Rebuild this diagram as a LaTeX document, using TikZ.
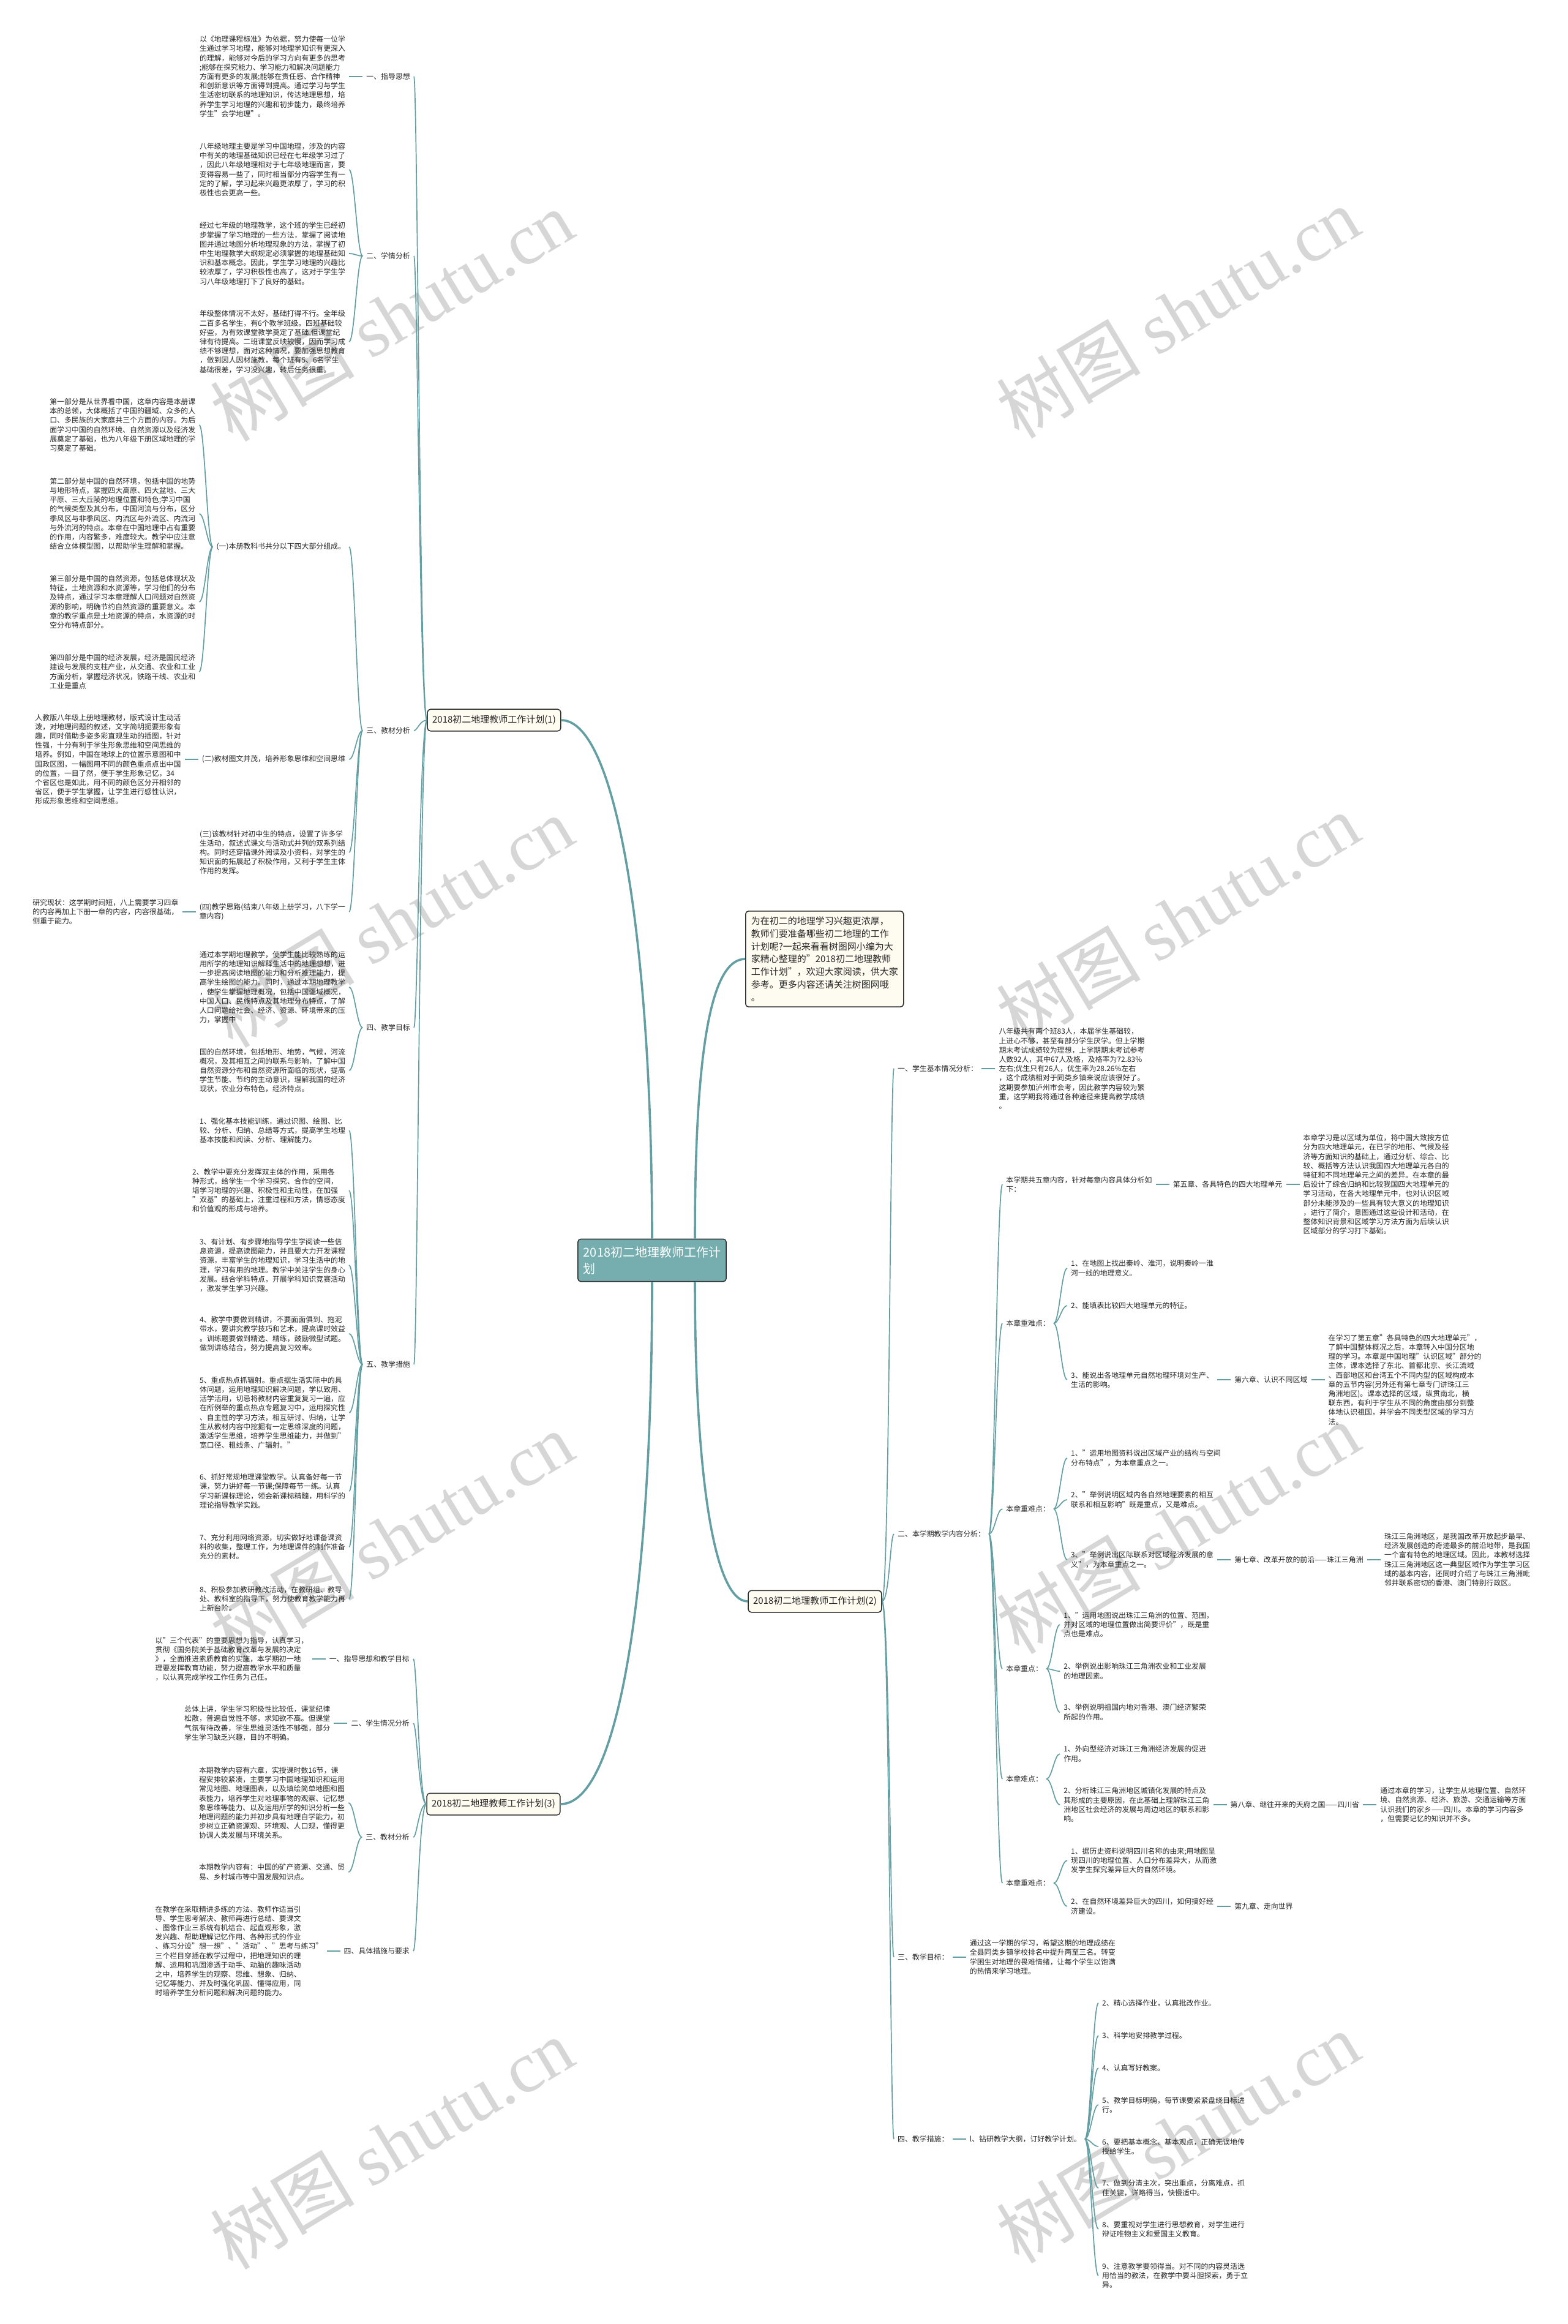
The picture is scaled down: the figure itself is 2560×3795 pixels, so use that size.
\documentclass[tikz,border=0pt]{standalone}
\usepackage{fontspec}
\setmainfont{Noto Sans CJK SC}
\newfontfamily\wmlatin{Liberation Serif}
\usetikzlibrary{calc}
\definecolor{lc}{RGB}{98,158,162}
\definecolor{tc}{RGB}{38,38,38}
\definecolor{boxfill}{RGB}{254,252,241}
\definecolor{boxdraw}{RGB}{45,45,45}
\definecolor{cfill}{RGB}{118,174,176}
\definecolor{wmc}{RGB}{214,214,214}
\newcommand\fontbody{\fontsize{11.9pt}{15.2pt}\selectfont}
\newcommand\fonthead{\fontsize{15pt}{18pt}\selectfont}
\newcommand\fontcenter{\fontsize{20pt}{27pt}\selectfont}
\newcommand\fontintro{\fontsize{15pt}{20.8pt}\selectfont}
\newcommand\fontwm{\fontsize{118pt}{120pt}\selectfont}
\newcommand\linkL[2]{\draw[conn] (#1.west) .. controls +(-15pt,0) and +(15pt,0) .. (#2.east);}
\newcommand\linkR[2]{\draw[conn] (#1.east) .. controls +(15pt,0) and +(-15pt,0) .. (#2.west);}
\newcommand\lineL[2]{\draw[conn] (#1.west) -- (#2.east);}
\newcommand\lineR[2]{\draw[conn] (#1.east) -- (#2.west);}
\newcommand\linkPL[2]{\draw[conn, shorten <=0pt] (#1.west) .. controls +(-12pt,0) and +(12pt,0) .. (#2.east);}
\newcommand\linkPR[2]{\draw[conn, shorten <=0pt] (#1.east) .. controls +(12pt,0) and +(-12pt,0) .. (#2.west);}
\begin{document}
\begin{tikzpicture}[x=1pt,y=-1pt,
  conn/.style={draw=lc, line width=1.7pt, shorten <=6pt, shorten >=6pt},
  trunk/.style={draw=lc, line width=3.6pt},
  tb/.style={inner sep=0pt, align=left, font=\fontbody, text=tc},
  tbl/.style={tb, anchor=east},
  tbr/.style={tb, anchor=west},
  bbox/.style={draw=boxdraw, fill=boxfill, rounded corners=5pt, line width=1.5pt, font=\fonthead, text=tc, inner xsep=8pt, inner ysep=10pt},
  ibox/.style={draw=boxdraw, fill=boxfill, rounded corners=5pt, line width=1.5pt, font=\fontintro, text=tc, inner xsep=9pt, inner ysep=9pt, align=left},
  cbox/.style={draw=boxdraw, fill=cfill, rounded corners=5pt, line width=1.5pt, font=\fontcenter, text=white, inner xsep=9pt, inner ysep=12pt, align=left},
  wm/.style={font=\fontwm, text=wmc, rotate=31, inner sep=0pt}
]
\fill[white] (0,0) rectangle (2560,3795);
\useasboundingbox (0,0) rectangle (2560,3795);

% watermarks
\foreach \wx/\wy in {640/515, 1924/510, 640/1505, 1924/1500, 640/2510, 1924/2495, 640/3500, 1924/3490}
  \node[wm] at (\wx,\wy) {树图 {\wmlatin shutu.cn}};

% ---------- centre ----------
\node[cbox] (c) at (1065,2058) {2018初二地理教师工作计\\划};
\node[ibox, anchor=west] (ib) at (1217,1566) {为在初二的地理学习兴趣更浓厚，\\教师们要准备哪些初二地理的工作\\计划呢?一起来看看树图网小编为大\\家精心整理的"2018初二地理教师\\工作计划"，欢迎大家阅读，供大家\\参考。更多内容还请关注树图网哦\\。};
\node[bbox] (p1) at (807,1176) {2018初二地理教师工作计划(1)};
\node[bbox] (p2) at (1331,2615) {2018初二地理教师工作计划(2)};
\node[bbox] (p3) at (806,2946) {2018初二地理教师工作计划(3)};

\draw[trunk] (c.north) .. controls (1065,1560) and (1010,1176) .. (p1.east);
\draw[trunk] ([xshift=70pt]c.north) .. controls (1135,1720) and (1160,1566) .. (ib.west);
\draw[trunk] ([xshift=70pt]c.south) .. controls (1135,2400) and (1165,2615) .. (p2.west);
\draw[trunk] (c.south) .. controls (1065,2600) and (1010,2946) .. (p3.east);

% ---------- part (1) ----------
\node[tbl] (l1a) at (670,125) {一、指导思想};
\node[tbl] (l1b) at (670,418) {二、学情分析};
\node[tbl] (l1c) at (670,1193) {三、教材分析};
\node[tbl] (l1d) at (670,1678) {四、教学目标};
\node[tbl] (l1e) at (670,2228) {五、教学措施};
\foreach \n in {l1a,l1b,l1c,l1d,l1e} {\linkPL{p1}{\n}}

\node[tbl] (a1) at ([xshift=-34pt]l1a.west |- 0,125) {以《地理课程标准》为依据，努力使每一位学\\生通过学习地理，能够对地理学知识有更深入\\的理解，能够对今后的学习方向有更多的思考\\;能够在探究能力、学习能力和解决问题能力\\方面有更多的发展;能够在责任感、合作精神\\和创新意识等方面得到提高。通过学习与学生\\生活密切联系的地理知识，传达地理思想，培\\养学生学习地理的兴趣和初步能力，最终培养\\学生"会学地理"。};
\lineL{l1a}{a1}

\node[tbl] (b1) at ([xshift=-34pt]l1b.west |- 0,277) {八年级地理主要是学习中国地理，涉及的内容\\中有关的地理基础知识已经在七年级学习过了\\，因此八年级地理相对于七年级地理而言，要\\变得容易一些了，同时相当部分内容学生有一\\定的了解，学习起来兴趣更浓厚了，学习的积\\极性也会更高一些。};
\node[tbl] (b2) at ([xshift=-34pt]l1b.west |- 0,414) {经过七年级的地理教学，这个班的学生已经初\\步掌握了学习地理的一些方法，掌握了阅读地\\图并通过地图分析地理现象的方法，掌握了初\\中生地理教学大纲规定必须掌握的地理基础知\\识和基本概念。因此，学生学习地理的兴趣比\\较浓厚了，学习积极性也高了，这对于学生学\\习八年级地理打下了良好的基础。};
\node[tbl] (b3) at ([xshift=-34pt]l1b.west |- 0,558) {年级整体情况不太好，基础打得不行。全年级\\二百多名学生，有6个教学班级。四班基础较\\好些，为有效课堂教学奠定了基础,但课堂纪\\律有待提高。二班课堂反映较慢，因而学习成\\绩不够理想，面对这种情况，要加强思想教育\\，做到因人因材施教，每个班有5、6名学生\\基础很差，学习没兴趣，转后任务很重。};
\foreach \n in {b1,b2,b3} {\linkL{l1b}{\n}}

\node[tbl] (s1) at ([xshift=-34pt]l1c.west |- 0,893) {(一)本册教科书共分以下四大部分组成。};
\node[tbl] (s2) at ([xshift=-34pt]l1c.west |- 0,1240) {(二)教材图文并茂，培养形象思维和空间思维};
\node[tbl] (s3) at ([xshift=-34pt]l1c.west |- 0,1392) {(三)该教材针对初中生的特点，设置了许多学\\生活动，叙述式课文与活动式并列的双系列结\\构。同时还穿插课外阅读及小资料，对学生的\\知识面的拓展起了积极作用，又利于学生主体\\作用的发挥。};
\node[tbl] (s4) at ([xshift=-34pt]l1c.west |- 0,1489) {(四)教学思路(结束八年级上册学习，八下学一\\章内容)};
\foreach \n in {s1,s2,s3,s4} {\linkL{l1c}{\n}}

\node[tbl] (c1) at ([xshift=-34pt]s1.west |- 0,694) {第一部分是从世界看中国，这章内容是本册课\\本的总领，大体概括了中国的疆域、众多的人\\口、多民族的大家庭共三个方面的内容。为后\\面学习中国的自然环境、自然资源以及经济发\\展奠定了基础，也为八年级下册区域地理的学\\习奠定了基础。};
\node[tbl] (c2) at ([xshift=-34pt]s1.west |- 0,839) {第二部分是中国的自然环境，包括中国的地势\\与地形特点，掌握四大高原、四大盆地、三大\\平原、三大丘陵的地理位置和特色;学习中国\\的气候类型及其分布，中国河流与分布，区分\\季风区与非季风区、内流区与外流区、内流河\\与外流河的特点。本章在中国地理中占有重要\\的作用，内容繁多，难度较大。教学中应注意\\结合立体模型图，以帮助学生理解和掌握。};
\node[tbl] (c3) at ([xshift=-34pt]s1.west |- 0,983) {第三部分是中国的自然资源，包括总体现状及\\特征，土地资源和水资源等，学习他们的分布\\及特点，通过学习本章理解人口问题对自然资\\源的影响，明确节约自然资源的重要意义。本\\章的教学重点是土地资源的特点，水资源的时\\空分布特点部分。};
\node[tbl] (c4) at ([xshift=-34pt]s1.west |- 0,1097) {第四部分是中国的经济发展，经济是国民经济\\建设与发展的支柱产业，从交通、农业和工业\\方面分析，掌握经济状况，铁路干线、农业和\\工业是重点};
\foreach \n in {c1,c2,c3,c4} {\linkL{s1}{\n}}

\node[tbl] (d1) at ([xshift=-34pt]s2.west |- 0,1240) {人教版八年级上册地理教材，版式设计生动活\\泼，对地理问题的叙述，文字简明扼要形象有\\趣，同时借助多姿多彩直观生动的插图，针对\\性强，十分有利于学生形象思维和空间思维的\\培养。例如，中国在地球上的位置示意图和中\\国政区图，一幅图用不同的颜色重点点出中国\\的位置，一目了然，便于学生形象记忆，34\\个省区也是如此，用不同的颜色区分开相邻的\\省区，便于学生掌握，让学生进行感性认识，\\形成形象思维和空间思维。};
\lineL{s2}{d1}
\node[tbl] (e1) at ([xshift=-34pt]s4.west |- 0,1489) {研究现状：这学期时间短，八上需要学习四章\\的内容再加上下册一章的内容，内容很基础，\\侧重于能力。};
\lineL{s4}{e1}

\node[tbl] (f1) at ([xshift=-34pt]l1d.west |- 0,1612) {通过本学期地理教学，使学生能比较熟练的运\\用所学的地理知识解释生活中的地理想想，进\\一步提高阅读地图的能力和分析推理能力，提\\高学生绘图的能力。同时，通过本期地理教学\\，使学生掌握地理概况，包括中国疆域概况，\\中国人口、民族特点及其地理分布特点，了解\\人口问题给社会、经济、资源、环境带来的压\\力，掌握中};
\node[tbl] (f2) at ([xshift=-34pt]l1d.west |- 0,1748) {国的自然环境，包括地形、地势，气候，河流\\概况，及其相互之间的联系与影响，了解中国\\自然资源分布和自然资源所面临的现状，提高\\学生节能、节约的主动意识，理解我国的经济\\现状，农业分布特色，经济特点。};
\foreach \n in {f1,f2} {\linkL{l1d}{\n}}

\node[tbl] (g1) at ([xshift=-34pt]l1e.west |- 0,1846) {1、强化基本技能训练，通过识图、绘图、比\\较、分析、归纳、总结等方式，提高学生地理\\基本技能和阅读、分析、理解能力。};
\node[tbl] (g2) at ([xshift=-34pt]l1e.west |- 0,1944) {2、教学中要充分发挥双主体的作用，采用各\\种形式，给学生一个学习探究、合作的空间，\\培学习地理的兴趣、积极性和主动性，在加强\\"双基"的基础上，注重过程和方法，情感态度\\和价值观的形成与培养。};
\node[tbl] (g3) at ([xshift=-34pt]l1e.west |- 0,2066) {3、有计划、有步骤地指导学生学阅读一些信\\息资源，提高读图能力，并且要大力开发课程\\资源，丰富学生的地理知识，学习生活中的地\\理，学习有用的地理。教学中关注学生的身心\\发展。结合学科特点，开展学科知识竞赛活动\\，激发学生学习兴趣。};
\node[tbl] (g4) at ([xshift=-34pt]l1e.west |- 0,2178) {4、教学中要做到精讲，不要面面俱到、拖泥\\带水，要讲究教学技巧和艺术，提高课时效益\\。训练题要做到精选、精练，鼓励微型试题。\\做到讲练结合，努力提高复习效率。};
\node[tbl] (g5) at ([xshift=-34pt]l1e.west |- 0,2307) {5、重点热点抓辐射。重点据生活实际中的具\\体问题，运用地理知识解决问题，学以致用、\\活学活用，切忌将教材内容重复复习一遍，应\\在所例举的重点热点专题复习中，运用探究性\\、自主性的学习方法，相互研讨、归纳，让学\\生从教材内容中挖掘有一定思维深度的问题，\\激活学生思维，培养学生思维能力，并做到"\\宽口径、粗线条、广辐射。"};
\node[tbl] (g6) at ([xshift=-34pt]l1e.west |- 0,2435) {6、抓好常规地理课堂教学。认真备好每一节\\课，努力讲好每一节课;保障每节一练。认真\\学习新课标理论，领会新课标精髓，用科学的\\理论指导教学实践。};
\node[tbl] (g7) at ([xshift=-34pt]l1e.west |- 0,2526) {7、充分利用网络资源，切实做好地课备课资\\料的收集，整理工作，为地理课件的制作准备\\充分的素材。};
\node[tbl] (g8) at ([xshift=-34pt]l1e.west |- 0,2611) {8、积极参加教研教改活动，在教研组、教导\\处、教科室的指导下，努力使教育教学能力再\\上新台阶。};
\foreach \n in {g1,g2,g3,g4,g5,g6,g7,g8} {\linkL{l1e}{\n}}

% ---------- part (3) ----------
\node[tbl] (m1) at (669,2709) {一、指导思想和教学目标};
\node[tbl] (m2) at (669,2814) {二、学生情况分析};
\node[tbl] (m3) at (669,3000) {三、教材分析};
\node[tbl] (m4) at (669,3186) {四、具体措施与要求};
\foreach \n in {m1,m2,m3,m4} {\linkPL{p3}{\n}}
\node[tbl] (h1) at ([xshift=-34pt]m1.west |- 0,2709) {以"三个代表"的重要思想为指导，认真学习，\\贯彻《国务院关于基础教育改革与发展的决定\\》，全面推进素质教育的实施，本学期初一地\\理要发挥教育功能，努力提高教学水平和质量\\，以认真完成学校工作任务为己任。};
\lineL{m1}{h1}
\node[tbl] (h2) at ([xshift=-34pt]m2.west |- 0,2814) {总体上讲，学生学习积极性比较低，课堂纪律\\松散，普遍自觉性不够，求知欲不高。但课堂\\气氛有待改善，学生思维灵活性不够强，部分\\学生学习缺乏兴趣，目的不明确。};
\lineL{m2}{h2}
\node[tbl] (h3) at ([xshift=-34pt]m3.west |- 0,2944) {本期教学内容有六章，实授课时数16节，课\\程安排较紧凑，主要学习中国地理知识和运用\\常见地图、地理图表，以及填绘简单地图和图\\表能力，培养学生对地理事物的观察、记忆想\\象思维等能力、以及运用所学的知识分析一些\\地理问题的能力并初步具有地理自学能力，初\\步树立正确资源观、环境观、人口观，懂得更\\协调人类发展与环境关系。};
\node[tbl] (h4) at ([xshift=-34pt]m3.west |- 0,3057) {本期教学内容有：中国的矿产资源、交通、贸\\易、乡村城市等中国发展知识点。};
\foreach \n in {h3,h4} {\linkL{m3}{\n}}
\node[tbl] (h5) at ([xshift=-34pt]m4.west |- 0,3186) {在教学在采取精讲多练的方法、教师作适当引\\导、学生思考解决、教师再进行总结、要课文\\、图像作业三系统有机结合、起直观形象，激\\发兴趣、帮助理解记忆作用、各种形式的作业\\、练习分设"想一想"、"活动"、"思考与练习"\\三个栏目穿插在教学过程中，把地理知识的理\\解、运用和巩固渗透于动手、动脑的趣味活动\\之中，培养学生的观察、思维、想象、归纳、\\记忆等能力、并及时强化巩固、懂得应用，同\\时培养学生分析问题和解决问题的能力。};
\lineL{m4}{h5}

% ---------- part (2) ----------
\node[tbr] (r1) at (1466,1745) {一、学生基本情况分析：};
\node[tbr] (r2) at (1466,2505) {二、本学期教学内容分析：};
\node[tbr] (r3) at (1466,3196) {三、教学目标：};
\node[tbr] (r4) at (1466,3493) {四、教学措施：};
\foreach \n in {r1,r2,r3,r4} {\linkPR{p2}{\n}}

\node[tbr] (i1) at ([xshift=34pt]r1.east |- 0,1745) {八年级共有两个班83人，本届学生基础较，\\上进心不够，甚至有部分学生厌学。但上学期\\期末考试成绩较为理想，上学期期末考试参考\\人数92人，其中67人及格，及格率为72.83\%\\左右;优生只有26人，优生率为28.26\%左右\\，这个成绩相对于同类乡镇来说应该很好了。\\这期要参加泸州市会考，因此教学内容较为繁\\重，这学期我将通过各种途径来提高教学成绩\\。};
\lineR{r1}{i1}

\node[tbr] (q0) at ([xshift=34pt]r2.east |- 0,1934) {本学期共五章内容，针对每章内容具体分析如\\下：};
\node[tbr] (k1) at ([xshift=34pt]r2.east |- 0,2161) {本章重难点：};
\node[tbr] (k2) at ([xshift=34pt]r2.east |- 0,2464) {本章重难点：};
\node[tbr] (k3) at ([xshift=34pt]r2.east |- 0,2725) {本章重点：};
\node[tbr] (k4) at ([xshift=34pt]r2.east |- 0,2905) {本章难点：};
\node[tbr] (k5) at ([xshift=34pt]r2.east |- 0,3075) {本章重难点：};
\foreach \n in {q0,k1,k2,k3,k4,k5} {\linkR{r2}{\n}}

\node[tbr] (ch5) at ([xshift=34pt]q0.east |- 0,1934) {第五章、各具特色的四大地理单元};
\lineR{q0}{ch5}
\node[tbr] (j5) at ([xshift=34pt]ch5.east |- 0,1934) {本章学习是以区域为单位，将中国大致按方位\\分为四大地理单元，在已学的地形、气候及经\\济等方面知识的基础上，通过分析、综合、比\\较、概括等方法认识我国四大地理单元各自的\\特征和不同地理单元之间的差异。在本章的最\\后设计了综合归纳和比较我国四大地理单元的\\学习活动，在各大地理单元中，也对认识区域\\部分未能涉及的一些具有较大意义的地理知识\\，进行了简介，意图通过这些设计和活动，在\\整体知识背景和区域学习方法方面为后续认识\\区域部分的学习打下基础。};
\lineR{ch5}{j5}

\node[tbr] (k11) at ([xshift=34pt]k1.east |- 0,2071) {1、在地图上找出秦岭、淮河，说明秦岭一淮\\河一线的地理意义。};
\node[tbr] (k12) at ([xshift=34pt]k1.east |- 0,2132) {2、能填表比较四大地理单元的特征。};
\node[tbr] (k13) at ([xshift=34pt]k1.east |- 0,2253) {3、能说出各地理单元自然地理环境对生产、\\生活的影响。};
\foreach \n in {k11,k12,k13} {\linkR{k1}{\n}}
\node[tbr] (ch6) at ([xshift=34pt]k13.east |- 0,2253) {第六章、认识不同区域};
\lineR{k13}{ch6}
\node[tbr] (j6) at ([xshift=34pt]ch6.east |- 0,2253) {在学习了第五章"各具特色的四大地理单元"，\\了解中国整体概况之后，本章转入中国分区地\\理的学习。本章是中国地理"认识区域"部分的\\主体，课本选择了东北、首都北京、长江流域\\、西部地区和台湾五个不同内型的区域构成本\\章的五节内容(另外还有第七章专门讲珠江三\\角洲地区)。课本选择的区域，纵贯南北，横\\联东西，有利于学生从不同的角度由部分到整\\体地认识祖国，并学会不同类型区域的学习方\\法。};
\lineR{ch6}{j6}

\node[tbr] (k21) at ([xshift=34pt]k2.east |- 0,2381) {1、"运用地图资料说出区域产业的结构与空间\\分布特点"，为本章重点之一。};
\node[tbr] (k22) at ([xshift=34pt]k2.east |- 0,2449) {2、"举例说明区域内各自然地理要素的相互\\联系和相互影响"既是重点，又是难点。};
\node[tbr] (k23) at ([xshift=34pt]k2.east |- 0,2547) {3、"举例说出区际联系对区域经济发展的意\\义"，为本章重点之一。};
\foreach \n in {k21,k22,k23} {\linkR{k2}{\n}}
\node[tbr] (ch7) at ([xshift=34pt]k23.east |- 0,2547) {第七章、改革开放的前沿——珠江三角洲};
\lineR{k23}{ch7}
\node[tbr] (j7) at ([xshift=34pt]ch7.east |- 0,2547) {珠江三角洲地区，是我国改革开放起步最早、\\经济发展创造的奇迹最多的前沿地带，是我国\\一个富有特色的地理区域。因此，本教材选择\\珠江三角洲地区这一典型区域作为学生学习区\\域的基本内容，还同时介绍了与珠江三角洲毗\\邻并联系密切的香港、澳门特别行政区。};
\lineR{ch7}{j7}

\node[tbr] (k31) at ([xshift=34pt]k3.east |- 0,2653) {1、"运用地图说出珠江三角洲的位置、范围，\\并对区域的地理位置做出简要评价"，既是重\\点也是难点。};
\node[tbr] (k32) at ([xshift=34pt]k3.east |- 0,2729) {2、举例说出影响珠江三角洲农业和工业发展\\的地理因素。};
\node[tbr] (k33) at ([xshift=34pt]k3.east |- 0,2796) {3、举例说明祖国内地对香港、澳门经济繁荣\\所起的作用。};
\foreach \n in {k31,k32,k33} {\linkR{k3}{\n}}

\node[tbr] (k41) at ([xshift=34pt]k4.east |- 0,2864) {1、外向型经济对珠江三角洲经济发展的促进\\作用。};
\node[tbr] (k42) at ([xshift=34pt]k4.east |- 0,2947) {2、分析珠江三角洲地区城镇化发展的特点及\\其形成的主要原因，在此基础上理解珠江三角\\洲地区社会经济的发展与周边地区的联系和影\\响。};
\foreach \n in {k41,k42} {\linkR{k4}{\n}}
\node[tbr] (ch8) at ([xshift=34pt]k42.east |- 0,2947) {第八章、继往开来的天府之国——四川省};
\lineR{k42}{ch8}
\node[tbr] (j8) at ([xshift=34pt]ch8.east |- 0,2947) {通过本章的学习，让学生从地理位置、自然环\\境、自然资源、经济、旅游、交通运输等方面\\认识我们的家乡——四川。本章的学习内容多\\，但需要记忆的知识并不多。};
\lineR{ch8}{j8}

\node[tbr] (k51) at ([xshift=34pt]k5.east |- 0,3038) {1、据历史资料说明四川名称的由来;用地图呈\\现四川的地理位置、人口分布差异大，从而激\\发学生探究差异巨大的自然环境。};
\node[tbr] (k52) at ([xshift=34pt]k5.east |- 0,3113) {2、在自然环境差异巨大的四川，如何搞好经\\济建设。};
\foreach \n in {k51,k52} {\linkR{k5}{\n}}
\node[tbr] (ch9) at ([xshift=34pt]k52.east |- 0,3113) {第九章、走向世界};
\lineR{k52}{ch9}

\node[tbr] (t1) at ([xshift=34pt]r3.east |- 0,3196) {通过这一学期的学习，希望这期的地理成绩在\\全县同类乡镇学校排名中提升两至三名。转变\\学困生对地理的畏难情绪，让每个学生以饱满\\的热情来学习地理。};
\lineR{r3}{t1}

\node[tbr] (n1) at ([xshift=34pt]r4.east |- 0,3493) {l、钻研教学大纲，订好教学计划。};
\lineR{r4}{n1}
\node[tbr] (n2) at ([xshift=34pt]n1.east |- 0,3271) {2、精心选择作业，认真批改作业。};
\node[tbr] (n3) at ([xshift=34pt]n1.east |- 0,3324) {3、科学地安排教学过程。};
\node[tbr] (n4) at ([xshift=34pt]n1.east |- 0,3377) {4、认真写好教案。};
\node[tbr] (n5) at ([xshift=34pt]n1.east |- 0,3437) {5、教学目标明确，每节课要紧紧盘绕目标进\\行。};
\node[tbr] (n6) at ([xshift=34pt]n1.east |- 0,3505) {6、要把基本概念、基本观点，正确无误地传\\授给学生。};
\node[tbr] (n7) at ([xshift=34pt]n1.east |- 0,3573) {7、做到分清主次，突出重点，分离难点，抓\\住关键，详略得当，快慢适中。};
\node[tbr] (n8) at ([xshift=34pt]n1.east |- 0,3640) {8、要重视对学生进行思想教育，对学生进行\\辩证唯物主义和爱国主义教育。};
\node[tbr] (n9) at ([xshift=34pt]n1.east |- 0,3716) {9、注意教学要领得当。对不同的内容灵活选\\用恰当的教法，在教学中要斗胆探索，勇于立\\异。};
\foreach \n in {n2,n3,n4,n5,n6,n7,n8,n9} {\linkR{n1}{\n}}
\end{tikzpicture}
\end{document}
